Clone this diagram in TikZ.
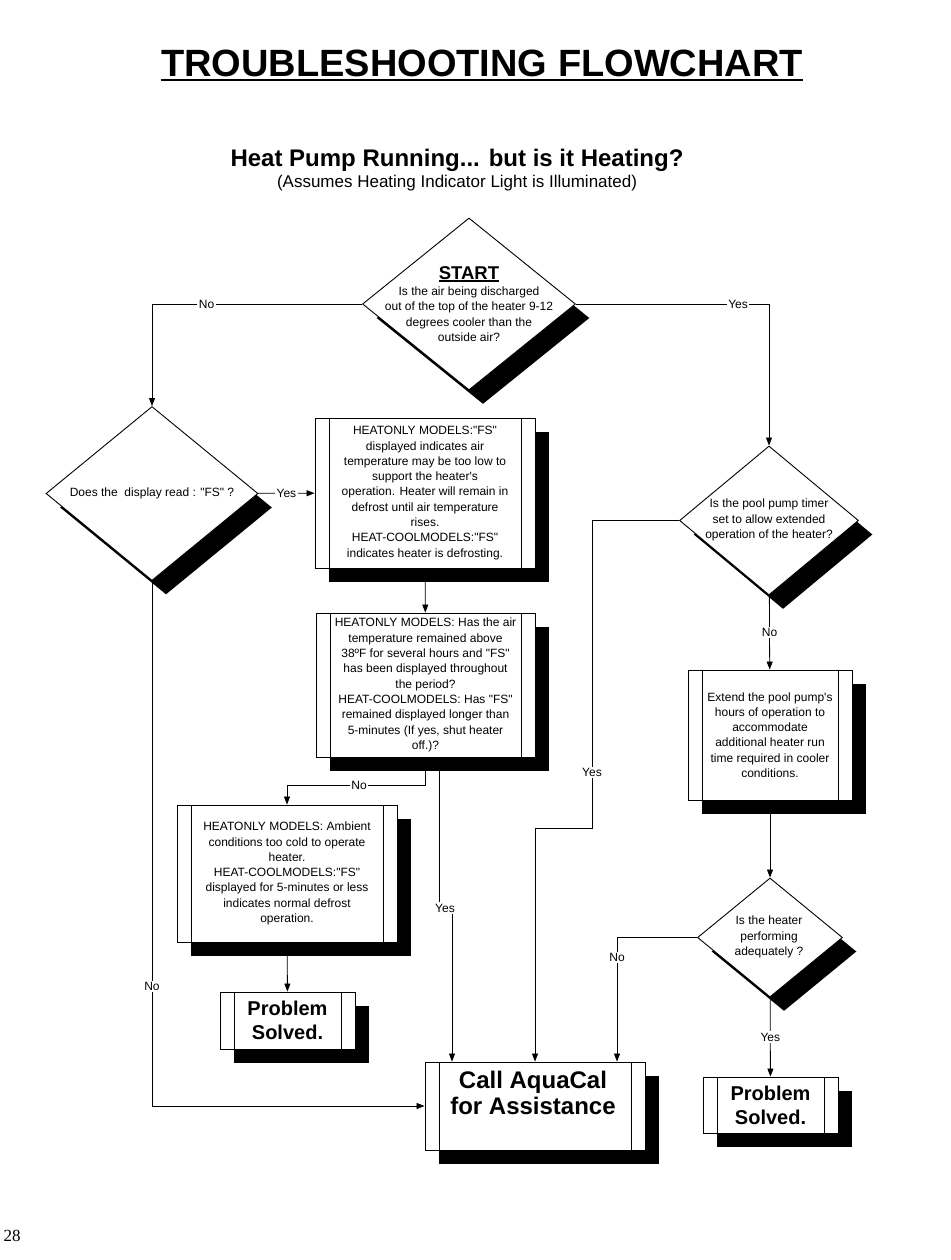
\documentclass[tikz,border=0pt]{standalone}
\usepackage{fontspec}
\usetikzlibrary{positioning, shapes.geometric, arrows.meta, shadows}
\setmainfont{Liberation Sans}[Ligatures=TeXOff]
\newfontfamily\pageserif{Liberation Serif}
\newcommand\thickul[1]{\leavevmode\setbox0=\hbox{#1}\rlap{\rule[-2.5pt]{\wd0}{1.4pt}}\box0}

\begin{document}
\begin{tikzpicture}[
    x=1pt, y=-1pt,
    line width=0.8pt,
    shade/.style={drop shadow={shadow xshift=14pt, shadow yshift=-14pt, opacity=1, fill=black}},
    decision/.style={draw, diamond, fill=white, line width=0.9pt, inner sep=0pt, shade},
    procbox/.style={draw, rectangle, fill=white, line width=0.9pt, inner sep=0pt, align=center, shade,
        path picture={\draw[line width=0.9pt]
            ([xshift=14pt]path picture bounding box.north west) -- ([xshift=14pt]path picture bounding box.south west)
            ([xshift=-14pt]path picture bounding box.north east) -- ([xshift=-14pt]path picture bounding box.south east);}},
    body/.style={font=\fontsize{12}{15.3}\selectfont, align=center},
    bigtext/.style={font=\bfseries\fontsize{20}{24}\selectfont},
    lbl/.style={fill=white, inner sep=1.5pt, font=\fontsize{12}{14}\selectfont},
    arrow/.style={-{Triangle[length=8pt, width=6pt]}}
]
\useasboundingbox (0,0) rectangle (950,1260);

\node[inner sep=0pt, text depth=0pt, font=\bfseries\fontsize{38}{38}\selectfont] (title) at (482,63) {TROUBLESHOOTING FLOWCHART};
\draw[line width=2.2pt] ([yshift=-3pt]title.south west) -- ([yshift=-3pt]title.south east);
\node[font=\bfseries\fontsize{24}{28}\selectfont] (subtitle) at (457,160) {Heat Pump Running... but is it Heating?};
\node[font=\fontsize{17}{20}\selectfont, below=-4pt of subtitle] (assumes) {(Assumes Heating Indicator Light is Illuminated)};

\node[decision, minimum width=213pt, minimum height=172pt] (start) at (469,304) {};
\node[body] (starttext) at (469,304) {{\bfseries\fontsize{18.5}{20}\selectfont\thickul{START}}\\[1pt]
    Is the air being discharged\\ out of the top of the heater 9-12\\ degrees cooler than the\\ outside air?};
\node[decision, minimum width=212pt, minimum height=174pt] (display) at (152,493.5) {};
\node[body] (displaytext) at (152,493) {Does the \ display read : "FS" ?};
\node[decision, minimum width=179pt, minimum height=149pt] (timer) at (769,520.5) {};
\node[body] (timertext) at (769,520) {Is the pool pump timer\\ set to allow extended\\ operation of the heater?};
\node[decision, minimum width=145pt, minimum height=119pt] (heating) at (770,937.5) {};
\node[body] (heatingtext) at (769,937) {Is the heater\\ performing\\ adequately ?};

\node[procbox, body, minimum width=220pt, minimum height=150pt] (fsinfo) at (425,493) {HEATONLY MODELS:"FS"\\ displayed indicates air\\
    temperature may be too low to\\ support the heater's\\ operation. Heater will remain in\\ defrost until air temperature\\
    rises.\\ HEAT-COOLMODELS:"FS"\\ indicates heater is defrosting.};
\node[procbox, body, minimum width=219pt, minimum height=144pt] (longfs) at (425.5,685) {HEATONLY MODELS: Has the air\\
    temperature remained above\\ 38ºF for several hours and "FS"\\ has been displayed throughout\\ the period?\\
    HEAT-COOLMODELS: Has "FS"\\ remained displayed longer than\\ 5-minutes (If yes, shut heater\\ off.)?};
\node[procbox, body, minimum width=220pt, minimum height=137pt] (cold) at (287,873.5) {HEATONLY MODELS: Ambient\\
    conditions too cold to operate\\ heater.\\ HEAT-COOLMODELS:"FS"\\ displayed for 5-minutes or less\\
    indicates normal defrost\\ operation.};
\node[procbox, body, minimum width=164pt, minimum height=130pt] (extend) at (770,735) {Extend the pool pump's\\
    hours of operation to\\ accommodate\\ additional heater run\\ time required in cooler\\ conditions.};
\node[procbox, bigtext, minimum width=135pt, minimum height=57pt] (solvedleft) at (287.5,1020.5) {Problem\\ Solved.};
\node[procbox, bigtext, minimum width=135pt, minimum height=56pt] (solvedright) at (770.5,1105) {Problem\\ Solved.};
\node[procbox, minimum width=220pt, minimum height=88pt] (call) at (535,1106) {};
\node[font=\bfseries\fontsize{24}{26}\selectfont, align=center] (calltext) at (533,1093) {Call AquaCal\\ for Assistance};

\node[font=\pageserif\fontsize{17}{17}\selectfont] (page) at (12,1236) {28};

\draw[arrow] (start) -| node[lbl, pos=0.37] {No} (display);
\draw[arrow] (start) -| node[lbl, pos=0.42] {Yes} (timer);
\draw[arrow] (display) -- node[lbl] {Yes} (fsinfo);
\draw[arrow] (display) |- node[lbl, pos=0.386] {No} (call);
\draw[arrow] (fsinfo) -- (longfs);
\draw[arrow] (longfs.south) -- ++(0,28) -| node[lbl, pos=0.24] {No} (cold.north);
\node[lbl] (yesmid) at (445,908) {Yes};
\draw ([xshift=14pt]longfs.south) -- ([xshift=14pt]longfs.south |- yesmid.north);
\draw[arrow] ([xshift=-83pt]call.north |- yesmid.south) -- ([xshift=-83pt]call.north);
\draw[arrow] (cold) -- (solvedleft);
\coordinate (yesbend) at (592,828);
\draw[arrow] (timer) -| node[lbl, pos=0.91] {Yes} (yesbend) -| (call);
\draw[arrow] (timer) -- node[lbl] {No} (extend);
\draw[arrow] (extend) -- (heating);
\draw[arrow] (heating) -| node[lbl, pos=0.58] {No} ([xshift=82pt]call.north);
\draw[arrow] (heating) -- node[lbl] {Yes} (solvedright);
\end{tikzpicture}
\end{document}
